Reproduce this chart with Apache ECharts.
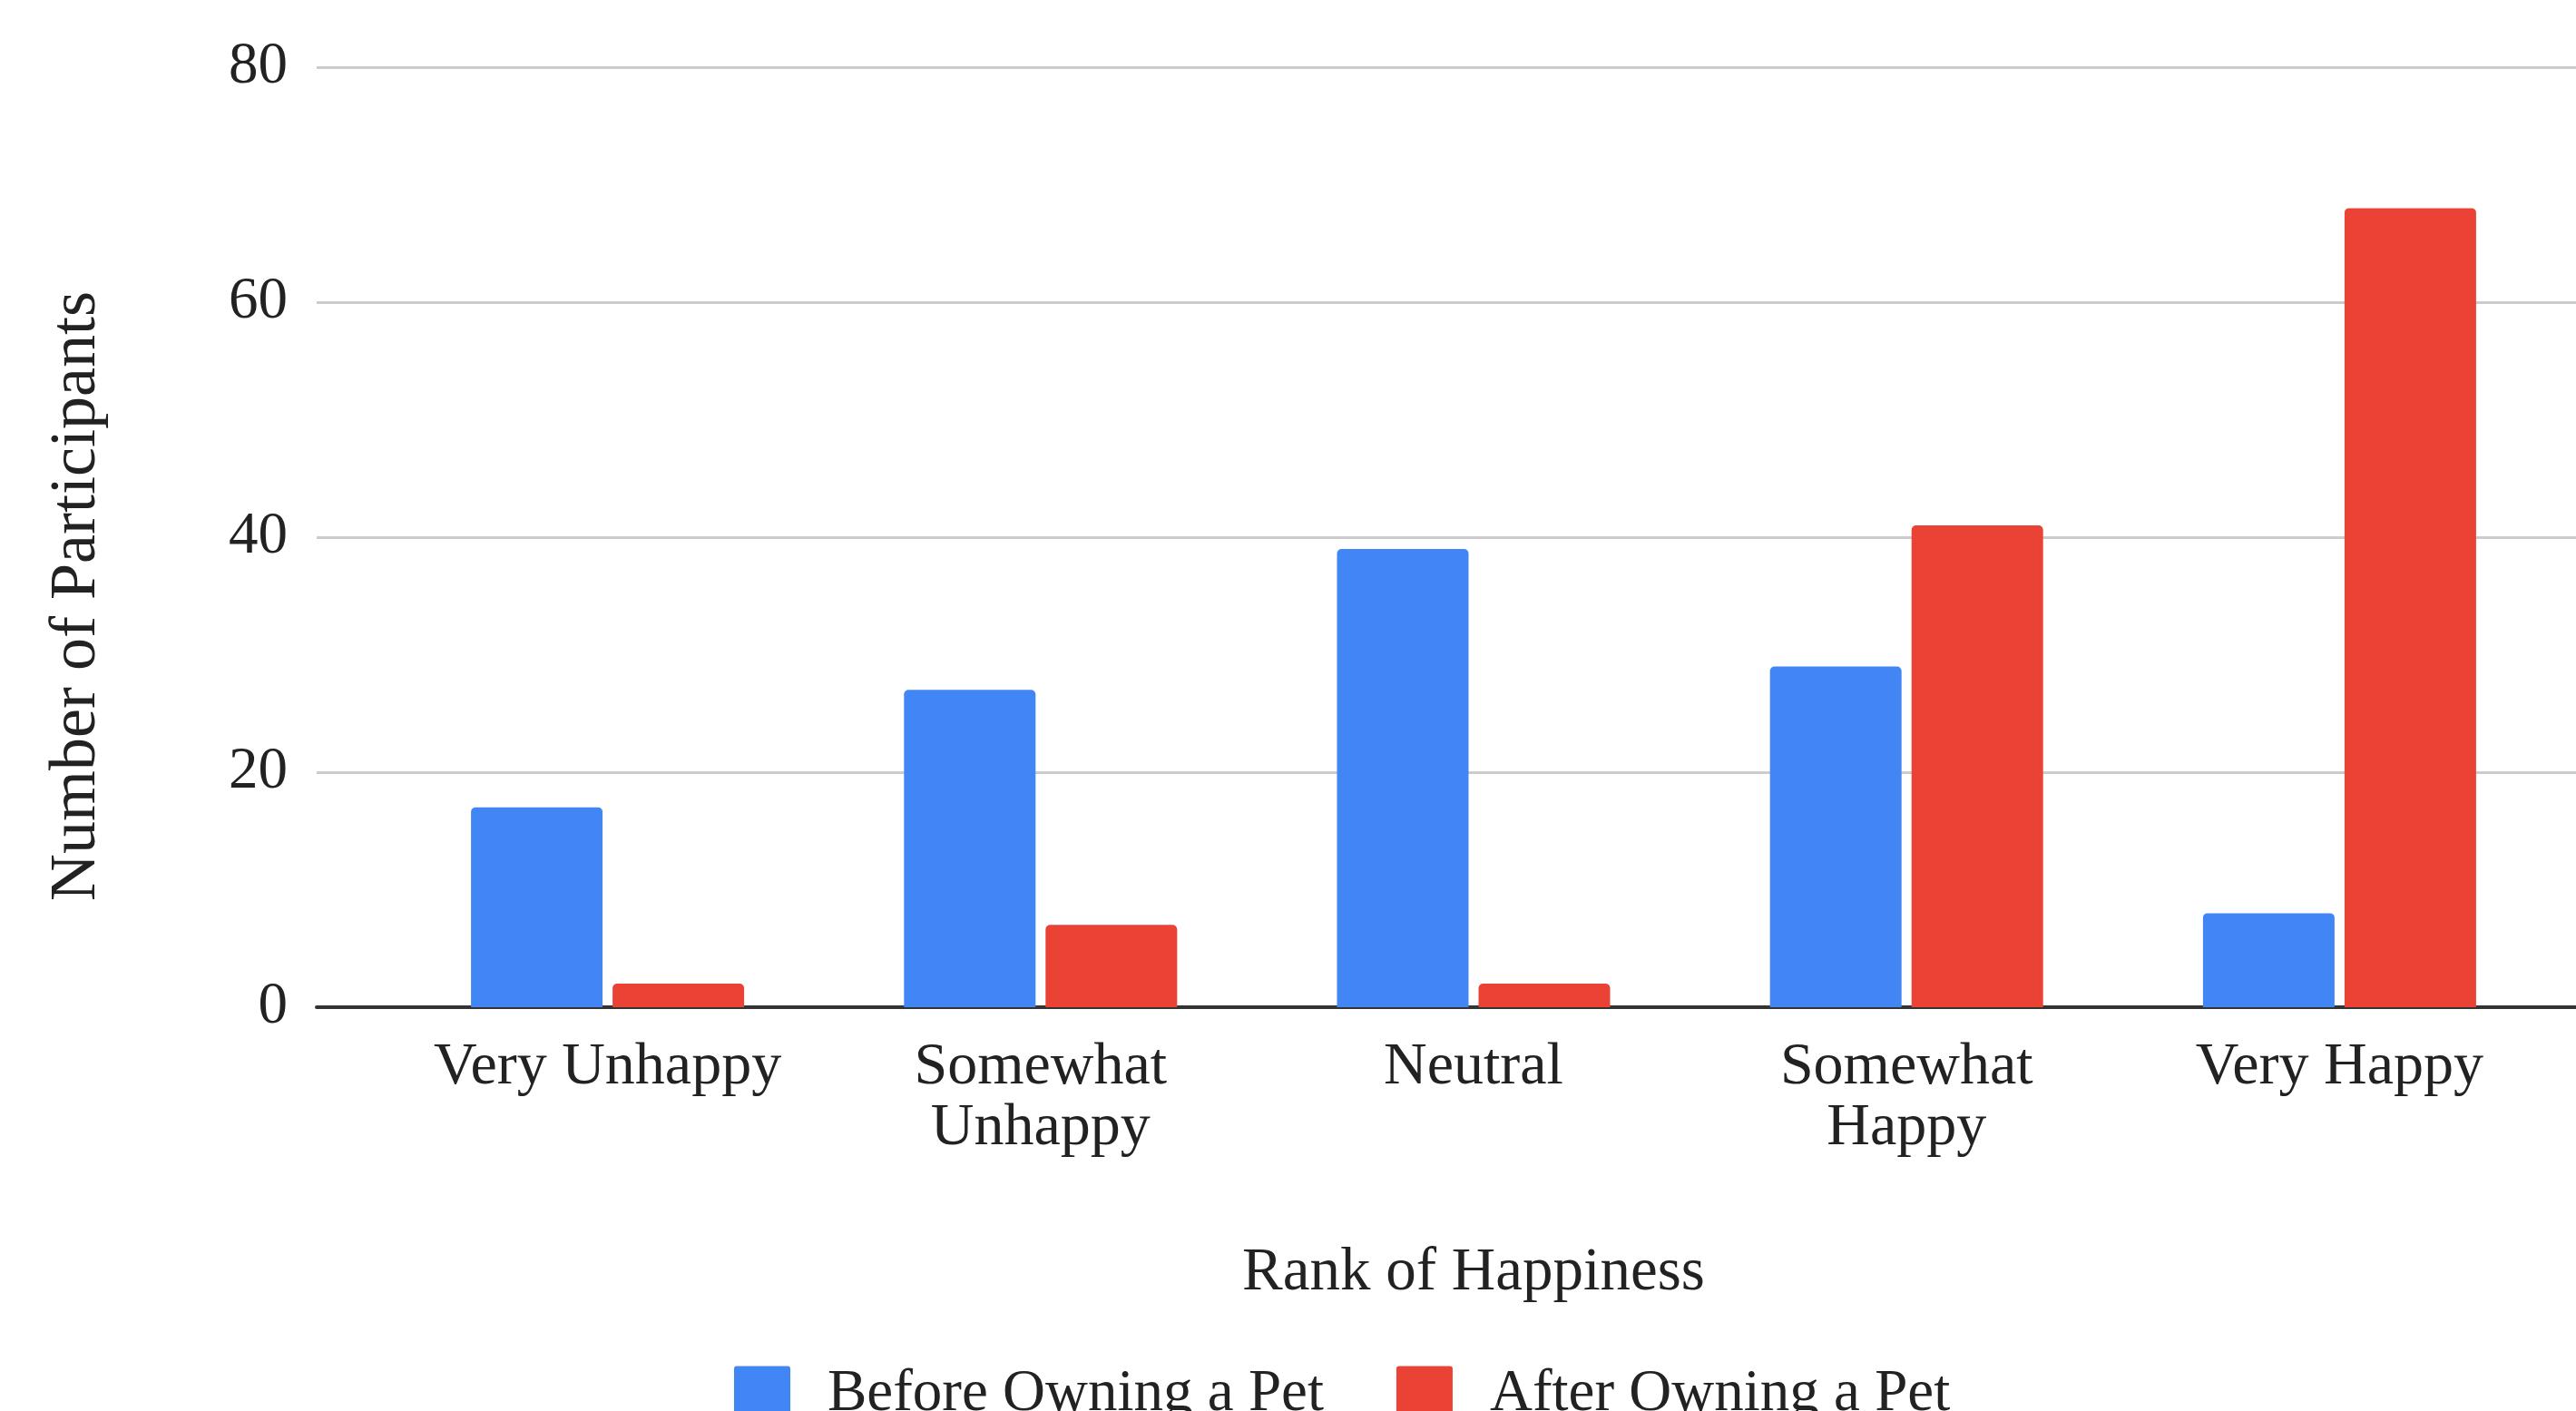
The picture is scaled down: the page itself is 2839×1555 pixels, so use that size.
<!DOCTYPE html>
<html>
<head>
<meta charset="utf-8">
<script src="https://cdn.jsdelivr.net/npm/echarts@6/dist/echarts.min.js"></script>
<style>
html,body{margin:0;padding:0;background:#fff;}
#chart{width:2839px;height:1555px;}
</style>
</head>
<body>
<div id="chart"></div>
<script>
var categories = ['Very Unhappy', 'Somewhat Unhappy', 'Neutral', 'Somewhat Happy', 'Very Happy'];
var beforePet = [17, 27, 39, 29, 8];
var afterPet = [2, 7, 2, 41, 68];
var seriesNames = ['Before Owning a Pet', 'After Owning a Pet'];
var yTicks = [0, 20, 40, 60, 80];
var xTitle = 'Rank of Happiness';
var yTitle = 'Number of Participants';

var FONT = '"Liberation Serif", "DejaVu Serif", serif';
var chart = echarts.init(document.getElementById('chart'), null, {renderer: 'canvas'});
var yMin = yTicks[0], yMax = yTicks[yTicks.length - 1], yStep = yTicks[1] - yTicks[0];

var option = {
  backgroundColor: '#ffffff',
  animation: false,
  color: ['#4285F4', '#EA4335'],
  textStyle: {fontFamily: FONT},
  legend: {
    data: seriesNames,
    left: 804,
    top: 1499,
    itemWidth: 62,
    itemHeight: 62,
    itemGap: 80,
    icon: 'path://M3,0 L59,0 Q62,0 62,3 L62,62 L0,62 L0,3 Q0,0 3,0 Z',
    textStyle: {fontFamily: FONT, fontSize: 65, color: '#222', padding: [0, 0, 0, 36]}
  },
  graphic: [{
    type: 'text',
    x: 85, y: 657,
    rotation: Math.PI / 2,
    style: {
      text: yTitle, fontFamily: FONT, fontSize: 72, fill: '#222',
      align: 'center', verticalAlign: 'middle'
    }
  }],
  grid: [
    {left: 349, right: 0, top: 74, bottom: 445, containLabel: false},
    {left: 431, right: 22, top: 74, bottom: 445, containLabel: false}
  ],
  xAxis: [
    {
      gridIndex: 0, type: 'value', min: 0, max: 1,
      axisLine: {show: true, lineStyle: {color: '#333', width: 4}},
      axisTick: {show: false}, axisLabel: {show: false}, splitLine: {show: false}
    },
    {
      gridIndex: 1, type: 'category', data: categories,
      axisLine: {show: false}, axisTick: {show: false},
      axisLabel: {
        interval: 0, margin: 33, fontFamily: FONT, fontSize: 66, lineHeight: 67, color: '#222',
        formatter: function (v) { return v.replace(/^Somewhat /, 'Somewhat\n'); }
      },
      name: xTitle, nameLocation: 'middle', nameGap: 260,
      nameTextStyle: {fontFamily: FONT, fontSize: 67, color: '#222'}
    }
  ],
  yAxis: [
    {
      gridIndex: 0, type: 'value', min: yMin, max: yMax, interval: yStep,
      axisLine: {show: false}, axisTick: {show: false},
      axisLabel: {margin: 32, fontFamily: FONT, fontSize: 65, color: '#222'},
      splitLine: {show: true, lineStyle: {color: '#cccccc', width: 3}}
    },
    {
      gridIndex: 1, type: 'value', min: yMin, max: yMax, interval: yStep,
      axisLine: {show: false}, axisTick: {show: false}, axisLabel: {show: false},
      splitLine: {show: false}
    }
  ],
  series: [
    {
      name: seriesNames[0], type: 'bar', xAxisIndex: 1, yAxisIndex: 1,
      data: beforePet, barWidth: 145, barGap: '7.6%',
      itemStyle: {borderRadius: [5, 5, 0, 0]}
    },
    {
      name: seriesNames[1], type: 'bar', xAxisIndex: 1, yAxisIndex: 1,
      data: afterPet, barWidth: 145, barGap: '7.6%',
      itemStyle: {borderRadius: [5, 5, 0, 0]}
    }
  ]
};
chart.setOption(option);
</script>
</body>
</html>
